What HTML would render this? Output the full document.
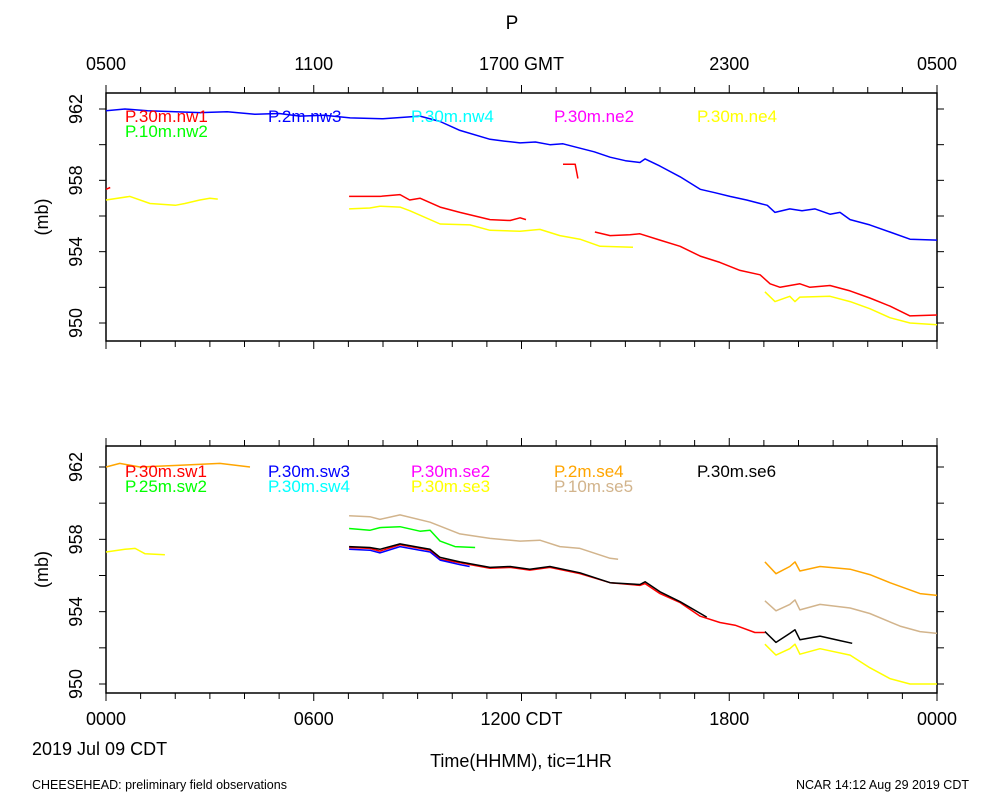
<!DOCTYPE html>
<html><head><meta charset="utf-8"><style>
body{margin:0;background:#fff}
svg{display:block;font-family:"Liberation Sans",sans-serif}
</style></head><body>
<svg id="c" width="1000" height="800" viewBox="0 0 1000 800" xmlns="http://www.w3.org/2000/svg"></svg>
<script>
const hoursTicks=[0,6,12,18,24];
const topTickLabels=["0500","1100","1700 GMT","2300","0500"];
const botTickLabels=["0000","0600","1200 CDT","1800","0000"];
const yTicks=[950,954,958,962];
// top panel series: [hour, mb]
const nw3=[[0,961.9],[0.55,962],[1.2,961.9],[2.0,961.85],[2.71,961.8],[3.5,961.85],[4.3,961.7],[5.0,961.75],[5.6,961.6],[6.3,961.65],[7.05,961.5],[8.0,961.45],[9.07,961.6],[9.65,961.3],[10.22,960.8],[11.09,960.3],[11.5,960.2],[11.96,960.1],[12.4,960.15],[12.82,960.0],[13.2,960.05],[13.69,959.8],[14.1,959.6],[14.56,959.3],[15.0,959.1],[15.42,959.0],[15.57,959.2],[16.0,958.8],[16.58,958.2],[17.16,957.5],[17.6,957.3],[18.02,957.1],[18.5,956.9],[18.89,956.7],[19.1,956.6],[19.32,956.2],[19.75,956.4],[20.1,956.3],[20.48,956.4],[20.91,956.1],[21.2,956.2],[21.49,955.8],[22.06,955.5],[22.64,955.1],[23.22,954.7],[24,954.65]];
const nw1a=[[0,957.5],[0.12,957.6]];
const nw1b=[[7.02,957.1],[7.91,957.1],[8.49,957.2],[8.77,956.9],[9.07,957.0],[9.65,956.5],[10.22,956.2],[11.09,955.8],[11.67,955.75],[11.96,955.9],[12.13,955.8]];
const nw1c=[[13.2,958.9],[13.55,958.9],[13.63,958.1]];
const nw1d=[[14.12,955.1],[14.56,954.9],[15.13,954.95],[15.42,955.0],[16.0,954.65],[16.58,954.3],[17.16,953.75],[17.73,953.4],[18.31,952.95],[18.89,952.7],[19.18,952.2],[19.47,952.0],[20.04,952.2],[20.33,952.0],[20.91,952.1],[21.49,951.8],[22.06,951.4],[22.64,950.95],[23.22,950.4],[24,950.45]];
const ne4a=[[0,956.9],[0.69,957.1],[1.27,956.7],[2.0,956.6],[2.28,956.7],[2.71,956.9],[3.0,957.0],[3.23,956.95]];
const ne4b=[[7.02,956.4],[7.62,956.45],[7.91,956.55],[8.49,956.5],[8.77,956.3],[9.65,955.55],[10.51,955.5],[11.09,955.2],[11.96,955.15],[12.53,955.25],[13.11,954.9],[13.69,954.7],[14.27,954.3],[15.22,954.25]];
const ne4c=[[19.03,951.75],[19.32,951.2],[19.75,951.5],[19.9,951.2],[20.04,951.45],[20.91,951.5],[21.49,951.2],[22.06,950.8],[22.64,950.3],[23.22,950.0],[24,949.9]];
// bottom panel series
const se4a=[[0,962],[0.4,962.2],[0.98,962],[2.14,962.1],[3.29,962.2],[4.16,962.0]];
const se4b=[[19.03,956.75],[19.35,956.1],[19.75,956.5],[19.9,956.75],[20.04,956.25],[20.62,956.5],[21.49,956.35],[22.06,956.05],[22.64,955.6],[23.51,955.0],[24,954.9]];
const se5a=[[7.02,959.3],[7.62,959.25],[7.91,959.1],[8.49,959.35],[9.36,958.95],[10.22,958.3],[11.09,958.05],[11.96,957.9],[12.53,957.95],[13.11,957.6],[13.69,957.5],[14.56,956.95],[14.79,956.9]];
const se5b=[[19.03,954.6],[19.35,954.05],[19.75,954.4],[19.9,954.65],[20.04,954.1],[20.62,954.4],[21.49,954.2],[22.06,953.9],[22.93,953.2],[23.51,952.9],[24,952.8]];
const sw2=[[7.02,958.6],[7.62,958.5],[7.91,958.65],[8.49,958.7],[9.07,958.45],[9.36,958.5],[9.65,957.9],[10.08,957.6],[10.66,957.55]];
const se3a=[[0,957.3],[0.55,957.45],[0.84,957.5],[1.13,957.2],[1.7,957.15]];
const sw1=[[7.02,957.55],[7.62,957.5],[7.91,957.35],[8.49,957.7],[9.07,957.5],[9.36,957.4],[9.65,956.9],[10.22,956.7],[11.09,956.4],[11.67,956.45],[12.24,956.3],[12.82,956.45],[13.69,956.1],[14.56,955.6],[15.42,955.45],[15.57,955.55],[16.0,955.0],[16.58,954.5],[17.16,953.75],[17.73,953.4],[18.17,953.25],[18.74,952.85],[19.03,952.85]];
const sw3=[[7.02,957.45],[7.62,957.4],[7.91,957.25],[8.49,957.6],[9.07,957.4],[9.36,957.3],[9.65,956.85],[10.22,956.6],[10.5,956.5]];
const se6a=[[7.02,957.6],[7.62,957.55],[7.91,957.45],[8.49,957.75],[9.07,957.55],[9.36,957.45],[9.65,957.0],[10.22,956.75],[11.09,956.45],[11.67,956.5],[12.24,956.35],[12.82,956.5],[13.69,956.15],[14.56,955.6],[15.42,955.5],[15.57,955.65],[16.0,955.1],[16.58,954.55],[17.35,953.7]];
const se6b=[[19.03,952.9],[19.35,952.3],[19.75,952.8],[19.9,953.0],[20.04,952.45],[20.62,952.65],[21.2,952.4],[21.55,952.25]];
const se3b=[[19.03,952.2],[19.35,951.6],[19.75,951.95],[19.9,952.2],[20.04,951.65],[20.62,951.95],[21.49,951.6],[22.06,950.9],[22.64,950.3],[23.22,950.0],[24,950.0]];

const NS="http://www.w3.org/2000/svg";
const svg=document.getElementById('c');
function mk(t,a,txt){const e=document.createElementNS(NS,t);for(const k in a)e.setAttribute(k,a[k]);if(txt!==undefined)e.textContent=txt;svg.appendChild(e);return e;}
const X0=106,X1=937;
const xs=h=>X0+h/24*(X1-X0);
const panels=[{top:93,bot:341,y962:109,y950:323,labels:topTickLabels,labY:70,pos:'top'},{top:446,bot:693,y962:467,y950:684,labels:botTickLabels,labY:725,pos:'bot'}];
function ys(p,v){return p.y950+(v-950)*(p.y962-p.y950)/12;}
panels.forEach((p,i)=>{
  const fr=mk('rect',{x:X0,y:p.top,width:X1-X0,height:p.bot-p.top,fill:'none',stroke:'#000','stroke-width':1.5});
  
  
  for(let h=0;h<=24;h++){
    const x=xs(h),L=(h%6==0)?8:6;
    const t1=mk('line',{x1:x,x2:x,y1:p.top,y2:p.top-L,stroke:'#000','stroke-width':1});
    
    
    const t2=mk('line',{x1:x,x2:x,y1:p.bot,y2:p.bot+L,stroke:'#000','stroke-width':1});
    
    
  }
  for(let v=950;v<=962;v+=2){
    const y=ys(p,v);
    const a=mk('line',{x1:X0,x2:X0-7,y1:y,y2:y,stroke:'#000'});
    
    
    const b=mk('line',{x1:X1,x2:X1+7,y1:y,y2:y,stroke:'#000'});
    
    
  }
  yTicks.forEach(v=>{
    const y=ys(p,v);
    const t=mk('text',{x:82,y:y,'font-size':18,'text-anchor':'middle',transform:`rotate(-90 82 ${y})`},String(v));
    
    
  });
  const yl=(p.top+p.bot)/2;
  const yt=mk('text',{x:48,y:yl,'font-size':18,'text-anchor':'middle',transform:`rotate(-90 48 ${yl})`},'(mb)');
  
  
  hoursTicks.forEach((h,k)=>{
    const t=mk('text',{x:xs(h),y:p.labY,'font-size':18,'text-anchor':'middle'},p.labels[k]);
    
    
  });
});
function line(pi,data,color,name){
  const p=panels[pi];
  const d=data.map((q,k)=>(k?'L':'M')+xs(q[0]).toFixed(1)+' '+ys(p,q[1]).toFixed(1)).join(' ');
  const e=mk('path',{d:d,fill:'none',stroke:color,'stroke-width':1.5,'stroke-linejoin':'round'});
  
  
}
line(0,nw3,'#0000ff','series-nw3');
line(0,ne4a,'#ffff00','series-ne4');line(0,ne4b,'#ffff00','series-ne4');line(0,ne4c,'#ffff00','series-ne4');
line(0,nw1a,'#ff0000','series-nw1');line(0,nw1b,'#ff0000','series-nw1');line(0,nw1c,'#ff0000','series-nw1');line(0,nw1d,'#ff0000','series-nw1');
line(1,se4a,'#ffa500','series-se4');line(1,se4b,'#ffa500','series-se4');
line(1,se5a,'#d2b48c','series-se5');line(1,se5b,'#d2b48c','series-se5');
line(1,sw2,'#00ff00','series-sw2');
line(1,se3a,'#ffff00','series-se3');line(1,se3b,'#ffff00','series-se3');
line(1,sw1,'#ff0000','series-sw1');
line(1,sw3,'#0000ff','series-sw3');
line(1,se6a,'#000000','series-se6');line(1,se6b,'#000000','series-se6');
const legTop=[["P.30m.nw1",125,122,'#ff0000'],["P.10m.nw2",125,137,'#00ff00'],["P.2m.nw3",268,122,'#0000ff'],["P.30m.nw4",411,122,'#00ffff'],["P.30m.ne2",554,122,'#ff00ff'],["P.30m.ne4",697,122,'#ffff00']];
const legBot=[["P.30m.sw1",125,477,'#ff0000'],["P.25m.sw2",125,492,'#00ff00'],["P.30m.sw3",268,477,'#0000ff'],["P.30m.sw4",268,492,'#00ffff'],["P.30m.se2",411,477,'#ff00ff'],["P.30m.se3",411,492,'#ffff00'],["P.2m.se4",554,477,'#ffa500'],["P.10m.se5",554,492,'#d2b48c'],["P.30m.se6",697,477,'#000000']];
legTop.concat(legBot).forEach(l=>{
  const t=mk('text',{x:l[1],y:l[2],'font-size':17,fill:l[3]},l[0]);
  
  
});
const texts=[["P",512,29,19,'middle','chart-title'],["2019 Jul 09 CDT",32,755,18,'start','date-label'],["Time(HHMM), tic=1HR",521,767,18,'middle','x-axis-title'],["CHEESEHEAD: preliminary field observations",32,789,12.5,'start','footer-left'],["NCAR 14:12 Aug 29 2019 CDT",969,789,12.5,'end','footer-right']];
texts.forEach(a=>{
  const t=mk('text',{x:a[1],y:a[2],'font-size':a[3],'text-anchor':a[4]},a[0]);
  
  
});
</script>
</body></html>
